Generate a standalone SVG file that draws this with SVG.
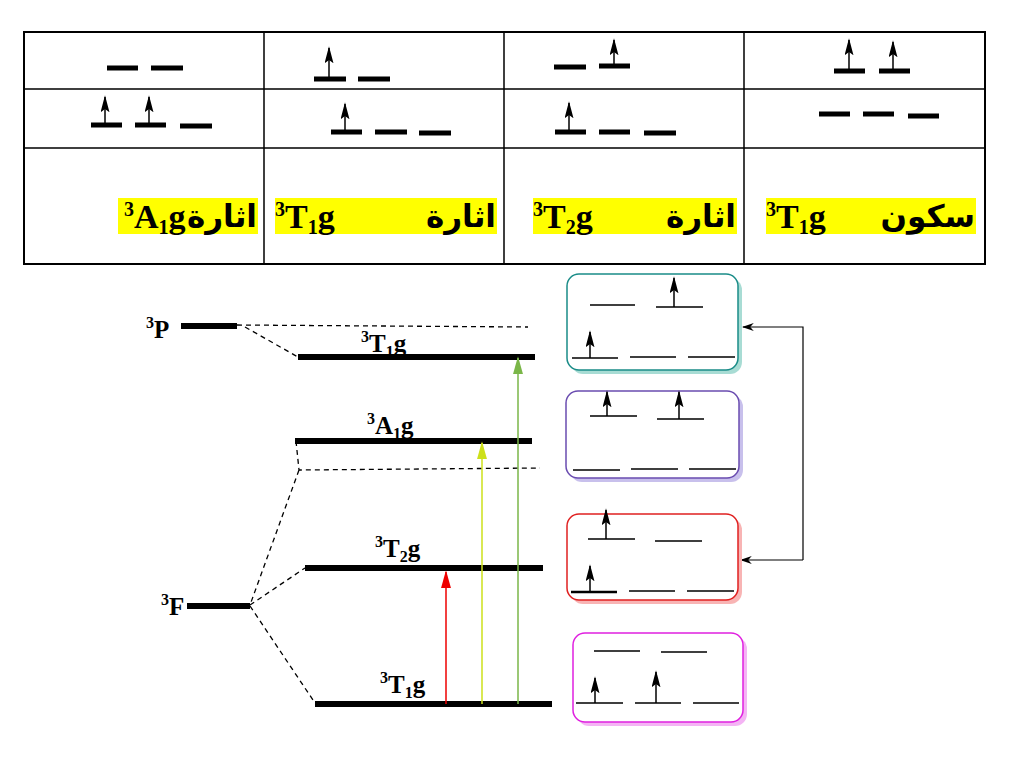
<svg xmlns="http://www.w3.org/2000/svg" width="1024" height="768" viewBox="0 0 1024 768">
<defs>
<marker id="ah" viewBox="0 0 10 10" refX="9" refY="5" markerWidth="17" markerHeight="9" orient="auto" markerUnits="userSpaceOnUse" preserveAspectRatio="none"><path d="M0,0 L10,5 L0,10 L2,5 Z" fill="#000"/></marker>
<marker id="ar" viewBox="0 0 10 10" refX="9" refY="5" markerWidth="18" markerHeight="10" orient="auto" markerUnits="userSpaceOnUse" preserveAspectRatio="none"><path d="M0,0 L10,5 L0,10 Z" fill="#e00"/></marker>
<marker id="ay" viewBox="0 0 10 10" refX="9" refY="5" markerWidth="18" markerHeight="10" orient="auto" markerUnits="userSpaceOnUse" preserveAspectRatio="none"><path d="M0,0 L10,5 L0,10 Z" fill="#cde01a"/></marker>
<marker id="ag" viewBox="0 0 10 10" refX="9" refY="5" markerWidth="18" markerHeight="10" orient="auto" markerUnits="userSpaceOnUse" preserveAspectRatio="none"><path d="M0,0 L10,5 L0,10 Z" fill="#7ab648"/></marker>
<marker id="ak" viewBox="0 0 10 10" refX="9" refY="5" markerWidth="12" markerHeight="8" orient="auto" markerUnits="userSpaceOnUse" preserveAspectRatio="none"><path d="M0,0 L10,5 L0,10 L3,5 Z" fill="#000"/></marker>
</defs>
<style>
.tb{stroke:#000;stroke-width:5}
.ln{stroke:#000;stroke-width:1.6}
.up{stroke:#000;stroke-width:1.5;marker-end:url(#ah)}
.lv{stroke:#000;stroke-width:6}
.ds{stroke:#000;stroke-width:1.3;stroke-dasharray:5,4;fill:none}
.lab{font-family:"Liberation Serif",serif;font-weight:bold;font-size:25px}
.big{font-family:"Liberation Serif",serif;font-weight:bold;font-size:34px}
.ara{font-family:"DejaVu Sans","Noto Sans",sans-serif;font-weight:bold;font-size:31px}
.hl{fill:#ffff00}
</style>
<rect width="1024" height="768" fill="#fff"/>
<g id="table">
<rect x="24" y="32" width="961" height="232" fill="none" stroke="#000" stroke-width="2"/>
<path d="M24,89H985M24,148H985M264,32V264M504,32V264M744,32V264" stroke="#000" stroke-width="1.5"/>
<g id="cell1">
<path class="tb" d="M107,68h31M151,68h32M91,125h31M135,125h31M180,126h32"/>
<line class="up" x1="105" y1="125" x2="105" y2="97"/><line class="up" x1="149" y1="125" x2="149" y2="97"/>
<rect class="hl" x="118" y="198" width="140" height="36"/>
<text class="big" x="124" y="228"><tspan font-size="20" dy="-12">3</tspan><tspan dy="12">A</tspan><tspan font-size="20" dy="6">1</tspan><tspan dy="-6">g</tspan></text>
<text class="ara" x="257" y="227" text-anchor="end">اثارة</text>
</g>
<g id="cell2">
<path class="tb" d="M314,79h32M358,79h32M331,132h31M375,132h32M419,133h32"/>
<line class="up" x1="329" y1="79" x2="329" y2="48"/><line class="up" x1="345" y1="132" x2="345" y2="104"/>
<rect class="hl" x="275" y="198" width="222" height="36"/>
<text class="big" x="275" y="228"><tspan font-size="20" dy="-12">3</tspan><tspan dy="12">T</tspan><tspan font-size="20" dy="6">1</tspan><tspan dy="-6">g</tspan></text>
<text class="ara" x="496" y="227" text-anchor="end">اثارة</text>
</g>
<g id="cell3">
<path class="tb" d="M554,67h32M599,66h31M555,132h31M599,132h31M644,133h32"/>
<line class="up" x1="614" y1="66" x2="614" y2="40"/><line class="up" x1="569" y1="132" x2="569" y2="103"/>
<rect class="hl" x="533" y="198" width="204" height="36"/>
<text class="big" x="533" y="228"><tspan font-size="20" dy="-12">3</tspan><tspan dy="12">T</tspan><tspan font-size="20" dy="6">2</tspan><tspan dy="-6">g</tspan></text>
<text class="ara" x="736" y="227" text-anchor="end">اثارة</text>
</g>
<g id="cell4">
<path class="tb" d="M834,71h31M879,71h31M819,114h31M863,114h31M908,116h31"/>
<line class="up" x1="849" y1="71" x2="849" y2="40"/><line class="up" x1="893" y1="71" x2="893" y2="42"/>
<rect class="hl" x="766" y="198" width="210" height="36"/>
<text class="big" x="766" y="228"><tspan font-size="20" dy="-12">3</tspan><tspan dy="12">T</tspan><tspan font-size="20" dy="6">1</tspan><tspan dy="-6">g</tspan></text>
<text class="ara" x="975" y="227" text-anchor="end">سكون</text>
</g>
</g>
<g id="levels">
<path class="lv" d="M181,326h56M298,357h237M295,441h237M305,568h238M187,606h63M315,704h237"/>
<path class="ds" d="M237,325L528,327M245,327L298,357M296,441L299,470L540,468M299,470L250,605M250,605L305,568M250,606L315,703"/>
<text class="lab" x="146" y="338"><tspan font-size="16" dy="-10">3</tspan><tspan dy="10">P</tspan></text>
<text class="lab" x="361" y="352"><tspan font-size="16" dy="-10">3</tspan><tspan dy="10">T</tspan><tspan font-size="16" dy="5">1</tspan><tspan dy="-5">g</tspan></text>
<text class="lab" x="367" y="434"><tspan font-size="16" dy="-10">3</tspan><tspan dy="10">A</tspan><tspan font-size="16" dy="5">1</tspan><tspan dy="-5">g</tspan></text>
<text class="lab" x="375" y="557"><tspan font-size="16" dy="-10">3</tspan><tspan dy="10">T</tspan><tspan font-size="16" dy="5">2</tspan><tspan dy="-5">g</tspan></text>
<text class="lab" x="161" y="615"><tspan font-size="16" dy="-10">3</tspan><tspan dy="10">F</tspan></text>
<text class="lab" x="380" y="693"><tspan font-size="16" dy="-10">3</tspan><tspan dy="10">T</tspan><tspan font-size="16" dy="5">1</tspan><tspan dy="-5">g</tspan></text>
</g>
<g id="connectors">
<line x1="446" y1="704" x2="446" y2="572" stroke="#e00" stroke-width="1.5" marker-end="url(#ar)"/>
<line x1="482" y1="704" x2="482" y2="443" stroke="#cde01a" stroke-width="1.5" marker-end="url(#ay)"/>
<line x1="518" y1="704" x2="518" y2="358" stroke="#7ab648" stroke-width="1.5" marker-end="url(#ag)"/>
<path d="M803,560V327H743" fill="none" stroke="#000" stroke-width="1.2" marker-end="url(#ak)"/>
<path d="M803,560H741" fill="none" stroke="#000" stroke-width="1.2" marker-end="url(#ak)"/>
</g>
<g id="box1">
<rect x="571" y="278" width="171" height="96" rx="12" fill="#a8dcd4"/>
<rect x="567" y="274" width="171" height="96" rx="12" fill="#fff" stroke="#1a8c88" stroke-width="1.5"/>
<path class="ln" d="M590,305h45M656,307h47M572,358h46M630,357h46M688,357h47"/>
<line class="up" x1="674" y1="307" x2="674" y2="278"/><line class="up" x1="590" y1="358" x2="590" y2="332"/>
</g>
<g id="box2">
<rect x="570" y="395" width="173" height="87" rx="12" fill="#c8c0ec"/>
<rect x="566" y="391" width="173" height="87" rx="12" fill="#fff" stroke="#6a4cb0" stroke-width="1.5"/>
<path class="ln" d="M590,416h47M657,419h47M573,470h47M631,469h47M689,469h47"/>
<line class="up" x1="607" y1="416" x2="607" y2="392"/><line class="up" x1="679" y1="419" x2="679" y2="392"/>
</g>
<g id="box3">
<rect x="571" y="518" width="171" height="86" rx="12" fill="#f8b4b4"/>
<rect x="567" y="514" width="171" height="86" rx="12" fill="#fff" stroke="#e02020" stroke-width="1.5"/>
<path class="ln" d="M588,539h47M655,541h47M629,591h46M687,591h47"/>
<path d="M571,592h46" stroke="#000" stroke-width="2.4"/>
<line class="up" x1="606" y1="539" x2="606" y2="510"/><line class="up" x1="590" y1="592" x2="590" y2="566"/>
</g>
<g id="box4">
<rect x="577" y="637" width="170" height="89" rx="12" fill="#f4b4f4"/>
<rect x="573" y="633" width="170" height="89" rx="12" fill="#fff" stroke="#e020e0" stroke-width="1.5"/>
<path class="ln" d="M594,651h46M661,652h46M576,703h47M635,703h46M693,703h46"/>
<line class="up" x1="595" y1="703" x2="595" y2="678"/><line class="up" x1="656" y1="703" x2="656" y2="672"/>
</g>
</svg>
